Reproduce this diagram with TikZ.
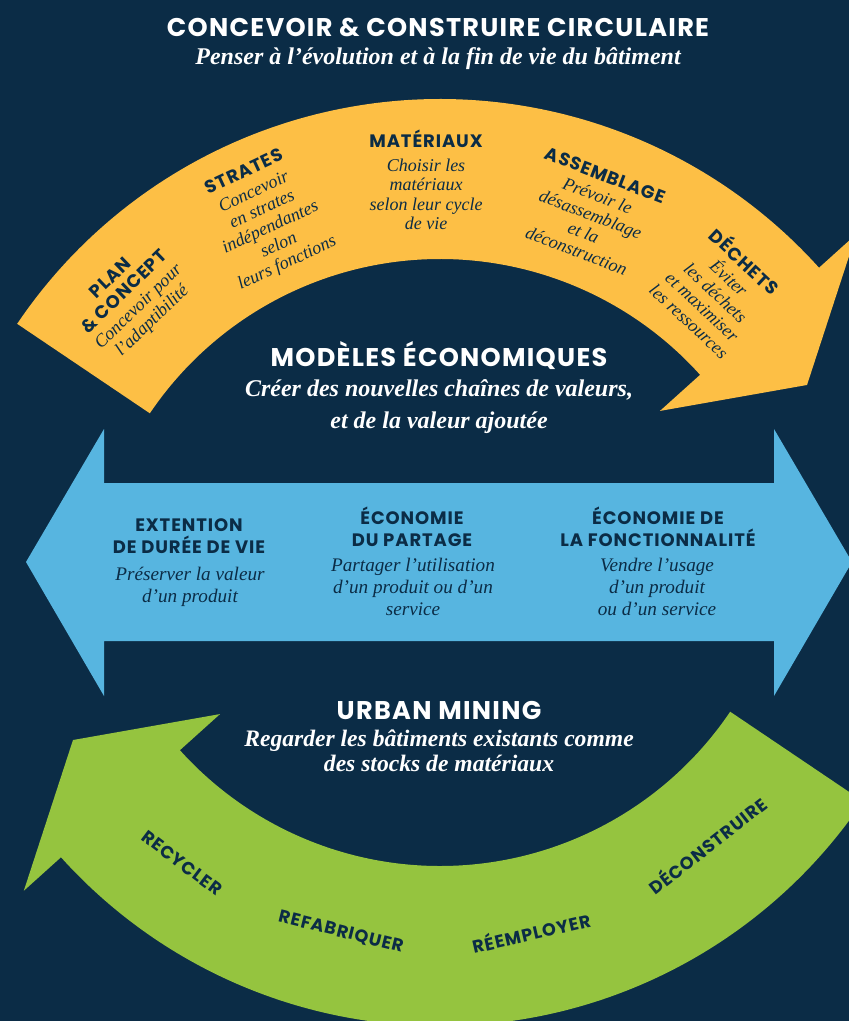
\documentclass[tikz,border=0pt]{standalone}
\usepackage{fontspec}
\setmainfont{Liberation Serif}
\newfontfamily\headfont{Poppins}[LetterSpace=5]
\definecolor{navy}{HTML}{0B2C46}
\definecolor{sun}{HTML}{FDBF45}
\definecolor{sky}{HTML}{57B5E0}
\definecolor{leaf}{HTML}{95C43F}
\newcommand\hd[1]{{\headfont\bfseries\upshape\fontsize{9}{11}\selectfont #1}}

\begin{document}
\begin{tikzpicture}
    [%%%%%%%%%%%%%%%%%%%%%%%%%%%%%%
        x=0.5pt, y=0.5pt,
        ttl/.style={text=white, inner sep=0pt, font=\headfont\bfseries\fontsize{12.8}{14}\selectfont},
        subttl/.style={text=white, inner sep=0pt, align=center, font=\bfseries\itshape\fontsize{12}{16}\selectfont},
        bluehd/.style={text=navy, inner sep=0pt, align=center, font=\headfont\bfseries\fontsize{9}{11}\selectfont},
        bluebody/.style={text=navy, inner sep=0pt, align=center, font=\itshape\fontsize{9.6}{11}\selectfont},
        arcbox/.style={text=navy, inner sep=0pt, align=center, font=\itshape\fontsize{9}{9.8}\selectfont},
        grnlbl/.style={text=navy, inner sep=0pt, font=\headfont\bfseries\fontsize{8.8}{10}\selectfont},
    ]%%%%%%%%%%%%%%%%%%%%%%%%%%%%%%
    \clip (0,0) rectangle (849,-1021);
    \fill[navy] (0,0) rectangle (849,-1021);

    % yellow arrow
    \begin{scope}[shift={(440,-609)}]
        \fill[sun] (146:510) arc[start angle=146, end angle=42, radius=510]
            -- (42:560) -- (31.4:430) -- (42:296) -- (42:350)
            arc[start angle=42, end angle=146, radius=350] -- cycle;
    \end{scope}

    % green arrow
    \begin{scope}[shift={(440,-516)}, rotate=180]
        \fill[leaf] (146:510) arc[start angle=146, end angle=42, radius=510]
            -- (42:560) -- (31.4:430) -- (42:296) -- (42:350)
            arc[start angle=42, end angle=146, radius=350] -- cycle;
    \end{scope}

    % blue arrow
    \fill[sky] (26,-562) -- (104,-429) -- (104,-483) -- (774,-483) -- (774,-429)
        -- (852,-562) -- (774,-696) -- (774,-641) -- (104,-641) -- (104,-696) -- cycle;

    \node[ttl] (mainttl) at (438,-27) {CONCEVOIR \& CONSTRUIRE CIRCULAIRE};
    \node[subttl] (mainsub) at (438,-59) {Penser à l’évolution et à la fin de vie du bâtiment};

    \node[arcbox, rotate=44] (plan) at (132,-300) {\hd{PLAN}\\ \hd{\& CONCEPT}\\ Concevoir pour\\ l’adaptibilité};
    \node[arcbox, rotate=25] (strates) at (266,-218) {\hd{STRATES}\\[1pt] Concevoir\\ en strates\\ indépendantes\\ selon\\ leurs fonctions};
    \node[arcbox] (materiaux) at (426,-180) {\hd{MATÉRIAUX}\\[2pt] Choisir les\\ matériaux\\ selon leur cycle\\ de vie};
    \node[arcbox, rotate=-21] (assemblage) at (591,-213) {\hd{ASSEMBLAGE}\\[1pt] Prévoir le\\ désassemblage\\ et la\\ déconstruction};
    \node[arcbox, rotate=-43] (dechets) at (718,-290) {\hd{DÉCHETS}\\[1pt] Éviter\\ les déchets\\ et maximiser\\ les ressources};

    \node[ttl] (modttl) at (439,-356) {MODÈLES ÉCONOMIQUES};
    \node[subttl] (modsub) at (439,-407) {Créer des nouvelles chaînes de valeurs,\\ et de la valeur ajoutée};

    \node[bluehd] (dureehd) at (189,-536) {EXTENTION\\ DE DURÉE DE VIE};
    \node[bluebody] (dureetxt) at (190,-587) {Préserver la valeur\\ d’un produit};
    \node[bluehd] (partagehd) at (412,-527) {ÉCONOMIE\\ DU PARTAGE};
    \node[bluebody] (partagetxt) at (413,-587) {Partager l’utilisation\\ d’un produit ou d’un\\ service};
    \node[bluehd] (fonctionhd) at (658,-527) {ÉCONOMIE DE\\ LA FONCTIONNALITÉ};
    \node[bluebody] (fonctiontxt) at (657,-587) {Vendre l’usage\\ d’un produit\\ ou d’un service};

    \node[ttl] (urbttl) at (439,-710) {URBAN MINING};
    \node[subttl, font=\bfseries\itshape\fontsize{11.8}{12.5}\selectfont] (urbsub) at (439,-751) {Regarder les bâtiments existants comme\\ des stocks de matériaux};

    \node[grnlbl, rotate=-37] (recycler) at (182,-863) {RECYCLER};
    \node[grnlbl, rotate=-14] (refab) at (341,-932) {REFABRIQUER};
    \node[grnlbl, rotate=13] (reemploi) at (531,-932) {RÉEMPLOYER};
    \node[grnlbl, rotate=38] (deconst) at (707,-845) {DÉCONSTRUIRE};
\end{tikzpicture}
\end{document}
